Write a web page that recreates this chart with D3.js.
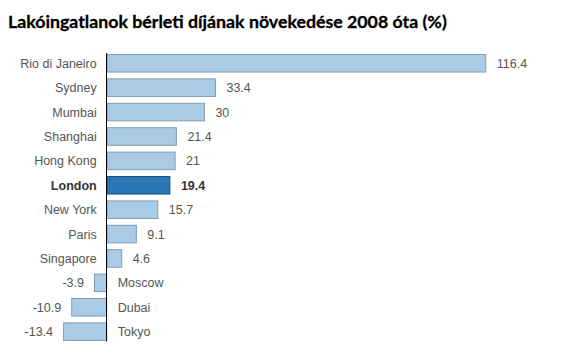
<!DOCTYPE html>
<html>
<head>
<meta charset="utf-8">
<script src="https://cdn.jsdelivr.net/npm/d3@7"></script>
<style>
  html, body { margin: 0; padding: 0; background: #fff; }
  svg { display: block; }
</style>
</head>
<body>
<svg id="chart" width="572" height="356"></svg>
<script>
const title = "Lakóingatlanok bérleti díjának növekedése 2008 óta (%)";
const cities = ["Rio di Janeiro", "Sydney", "Mumbai", "Shanghai", "Hong Kong", "London",
                "New York", "Paris", "Singapore", "Moscow", "Dubai", "Tokyo"];
const values = [116.4, 33.4, 30, 21.4, 21, 19.4, 15.7, 9.1, 4.6, -3.9, -10.9, -13.4];
const highlight = ["London"];

const svg = d3.select("#chart");

// Title, fitted to the reference width
const t = svg.append("text")
  .attr("x", 8).attr("y", 28)
  .attr("font-family", "Lato, 'Open Sans', sans-serif")
  .attr("font-weight", "bold")
  .attr("font-size", 20)
  .attr("fill", "#000")
  .attr("stroke", "#000")
  .attr("stroke-width", 0.3)
  .text(title);
const targetW = 439;
const w = t.node().getComputedTextLength();
t.attr("font-size", 20 * targetW / w);

const x = d3.scaleLinear().domain([-20, 120]).range([41.56, 497.54]);
const y = d3.scaleBand().domain(cities).range([51.07, 343.87])
  .paddingInner(0.24).paddingOuter(0.12);

const data = cities.map((c, i) => ({ city: c, value: values[i], hi: highlight.includes(c) }));

const g = svg.append("g");

g.selectAll("rect.bar").data(data).join("rect")
  .attr("class", "bar")
  .attr("x", d => Math.min(x(0), x(d.value)) + 0.5)
  .attr("y", d => y(d.city) + 0.5)
  .attr("width", d => Math.abs(x(d.value) - x(0)) - 0.5)
  .attr("height", y.bandwidth() - 1)
  .attr("fill", d => d.hi ? "#2a77b5" : "#aacbe5")
  .attr("stroke", d => d.hi ? "#1d4f7c" : "#7f9db6")
  .attr("stroke-width", 1);

const font = "Arial, 'Liberation Sans', sans-serif";

// Category labels
g.selectAll("text.cat").data(data).join("text")
  .attr("class", "cat")
  .attr("x", d => d.value >= 0 ? x(0) - 10 : x(0) + 11)
  .attr("y", d => y(d.city) + y.bandwidth() / 2)
  .attr("dy", "0.36em")
  .attr("text-anchor", d => d.value >= 0 ? "end" : "start")
  .attr("font-family", font)
  .attr("font-size", 12.5)
  .attr("font-weight", d => d.hi ? "bold" : "normal")
  .attr("fill", d => d.hi ? "#333" : "#555")
  .text(d => d.city);

// Value labels
g.selectAll("text.val").data(data).join("text")
  .attr("class", "val")
  .attr("x", d => d.value >= 0 ? x(d.value) + 11 : x(d.value) - 10)
  .attr("y", d => y(d.city) + y.bandwidth() / 2)
  .attr("dy", "0.36em")
  .attr("text-anchor", d => d.value >= 0 ? "start" : "end")
  .attr("font-family", font)
  .attr("font-size", 12.5)
  .attr("font-weight", d => d.hi ? "bold" : "normal")
  .attr("fill", d => d.hi ? "#333" : "#555")
  .text(d => String(d.value));

// Zero axis line
svg.append("line")
  .attr("x1", Math.round(x(0)) - 0.5).attr("x2", Math.round(x(0)) - 0.5)
  .attr("y1", y.range()[0] + 2).attr("y2", y.range()[1] - 2.5)
  .attr("stroke", "#000").attr("stroke-width", 1);
</script>
</body>
</html>
